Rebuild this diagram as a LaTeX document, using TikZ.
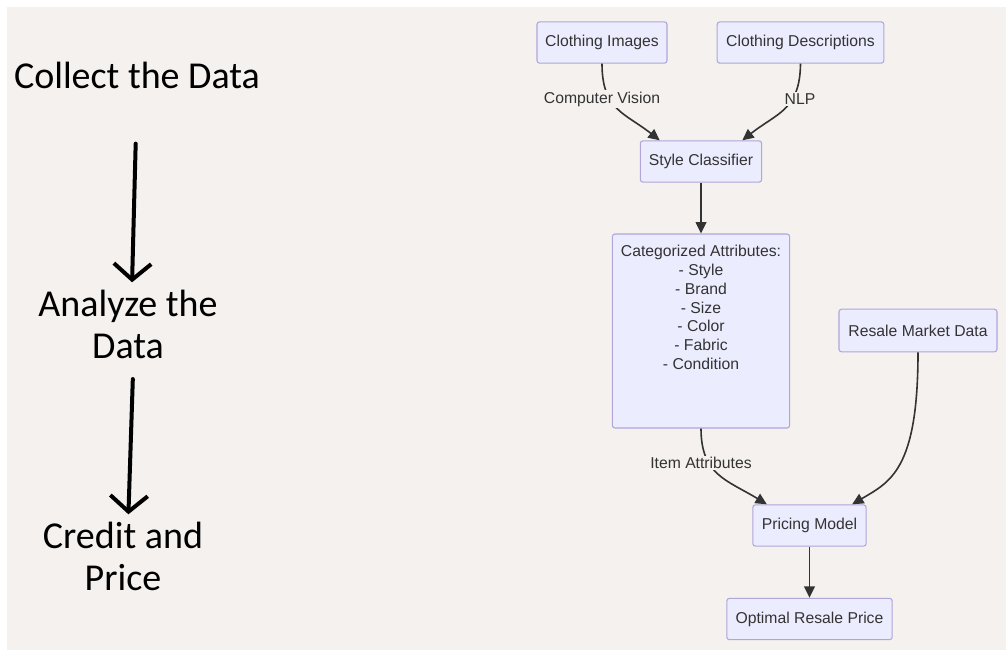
\documentclass[tikz,border=0pt]{standalone}
\usepackage{fontspec}
\setmainfont{Liberation Sans}
\newfontfamily\stagefont{Carlito}
\usetikzlibrary{arrows.meta}

\begin{document}
\begin{tikzpicture}[x=0.75pt,y=-0.75pt,
    box/.style={draw=boxline,fill=boxfill,line width=0.8pt,rounded corners=2pt,
        minimum height=31pt,text=ink,font=\fontsize{11.8}{14.2}\selectfont},
    flow/.style={draw=ink,line width=1.2pt,-{Triangle[length=8.5pt,width=8pt]}},
    elabel/.style={fill=paper,inner sep=1pt,text=ink,font=\fontsize{11.8}{14.2}\selectfont},
    stage/.style={align=center,text=black,font=\stagefont\fontsize{28.5}{31.5}\selectfont},
    hand/.style={line width=3pt,line cap=round,
        -{Straight Barb[length=12pt,width=28pt,line width=3pt]}}]
\definecolor{paper}{RGB}{244,241,238}
\definecolor{boxfill}{RGB}{236,236,255}
\definecolor{boxline}{RGB}{176,166,218}
\definecolor{ink}{RGB}{51,51,51}
% background
\fill[white] (0,0) rectangle (1006,650);
\fill[paper] (7,7) rectangle (1006,650);
% three stages on the left
\node[stage,anchor=base] (collect) at (137,88) {Collect the Data};
\node[stage] (analyze) at (128,324) {Analyze the\\Data};
\node[stage] (credit) at (123,556) {Credit and\\Price};
\draw[hand,shorten <=38pt,shorten >=2pt] (collect.south) -- ([xshift=3pt]analyze.north);
\draw[hand,shorten <=12pt,shorten >=2pt] ([xshift=4pt]analyze.south) -- ([xshift=4pt]credit.north);
% flowchart
\node[box,minimum width=97.5pt] (img) at (602,42.5) {Clothing Images};
\node[box,minimum width=125pt] (desc) at (800.5,42.5) {Clothing Descriptions};
\node[box,minimum width=91pt] (sty) at (701,161.5) {Style Classifier};
\node[box,minimum width=133pt,minimum height=145.5pt] (cat) at (701,331) {};
\node[anchor=north,align=center,text=ink,font=\fontsize{11.8}{14.2}\selectfont] (catlist)
    at ([yshift=-5pt]cat.north) {Categorized Attributes:\\- Style\\- Brand\\- Size\\- Color\\- Fabric\\- Condition};
\node[box,minimum width=118.5pt,minimum height=32pt] (rmd) at (918,330.5) {Resale Market Data};
\node[box,minimum width=85pt] (pm) at (809.5,525.5) {Pricing Model};
\node[box,minimum width=124pt] (orp) at (809.5,619) {Optimal Resale Price};

\draw[flow] (img.south) .. controls (602,110) and (625,113) .. ([xshift=-31pt]sty.north);
\draw[flow] (desc.south) .. controls (800,110) and (777,113) .. ([xshift=31pt]sty.north);
\draw[flow] (sty) -- (cat);
\draw[flow] (cat.south) .. controls (701,475) and (727,480) .. ([xshift=-32pt]pm.north);
\draw[flow] (rmd.south) .. controls (918,470) and (890,482) .. ([xshift=32pt]pm.north);
\draw[flow] (pm) -- (orp);
\node[elabel] (cv) at (602,99) {Computer Vision};
\node[elabel] (nlp) at (800,99) {NLP};
\node[elabel] (itm) at (701,463) {Item Attributes};
\end{tikzpicture}
\end{document}
